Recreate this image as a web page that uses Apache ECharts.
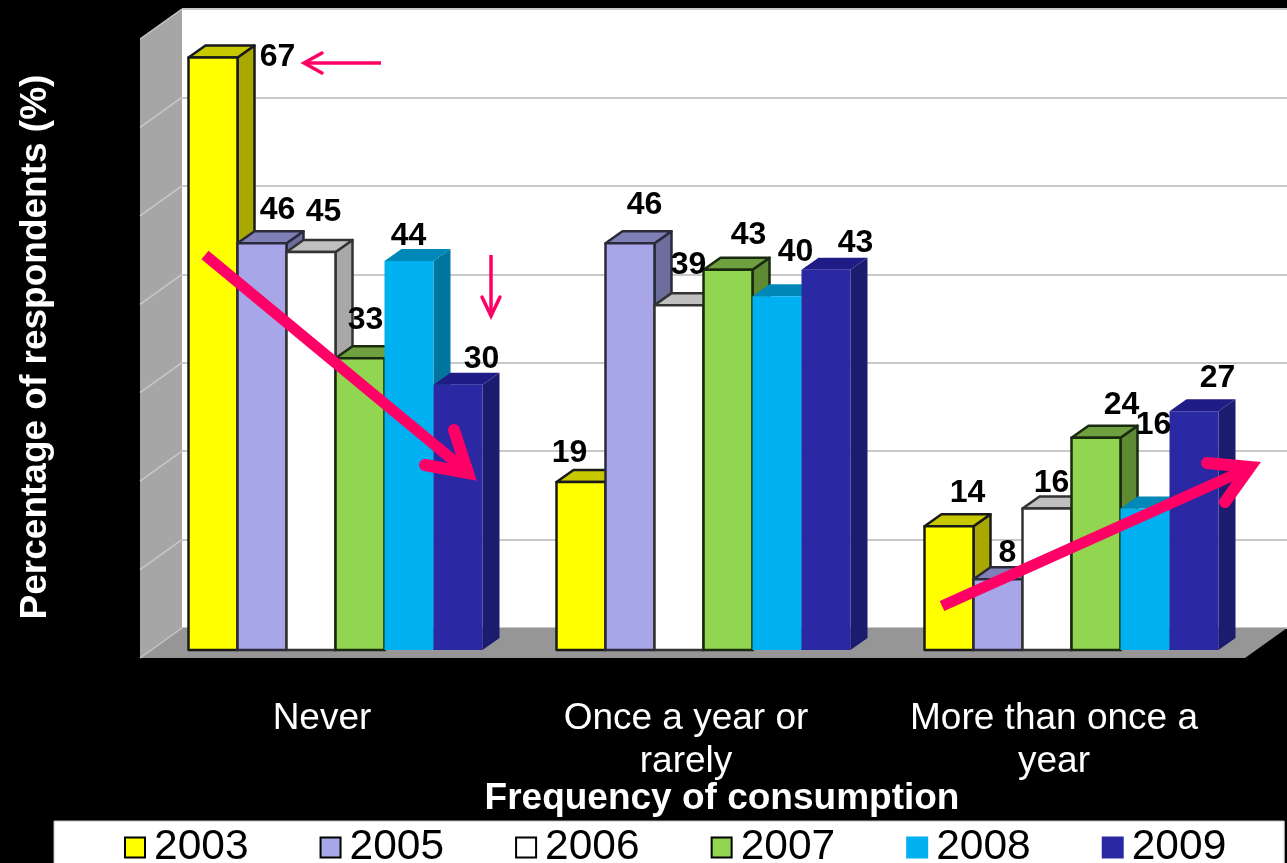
<!DOCTYPE html>
<html>
<head>
<meta charset="utf-8">
<style>html,body{margin:0;padding:0;background:#000}#c{width:1287px;height:863px}</style>
<script src="https://cdn.jsdelivr.net/npm/echarts@6/dist/echarts.min.js"></script>
</head>
<body>
<div id="c"></div>
<script>
const categories = ['Never', 'Once a year or\nrarely', 'More than once a\nyear'];
const years = ['2003', '2005', '2006', '2007', '2008', '2009'];
const v2003 = [67, 19, 14];
const v2005 = [46, 46, 8];
const v2006 = [45, 39, 16];
const v2007 = [33, 43, 24];
const v2008 = [44, 40, 16];
const v2009 = [30, 43, 27];
const yTicks = [0, 10, 20, 30, 40, 50, 60, 70];
const xAxisTitle = 'Frequency of consumption';
const yAxisTitle = 'Percentage of respondents (%)';

const allValues = [v2003, v2005, v2006, v2007, v2008, v2009];
const FONT = '"Liberation Sans", Arial, sans-serif';
const faces = [
  { front: '#ffff00', side: '#a8a800', top: '#c8c800', border: '#1a1a1a' },
  { front: '#a6a6e8', side: '#6e6e9e', top: '#8080b8', border: '#2a2a3a' },
  { front: '#ffffff', side: '#a8a8a8', top: '#c0c0c0', border: '#333333' },
  { front: '#92d550', side: '#5f8a34', top: '#6f9f3f', border: '#1a2a10' },
  { front: '#00b0f0', side: '#0075a0', top: '#0088b8', border: null },
  { front: '#2a28a3', side: '#1c1b6e', top: '#1f1d85', border: null }
];
// label offsets (pixels) from the top-centre of each bar's front face; series x category
const labelOffsets = [
  [[64.5, -3], [-11.5, -31], [18.5, -36]],
  [[15.5, -36], [14.5, -41], [9.5, -29]],
  [[12.5, -42], [9.5, -42], [4.5, -28]],
  [[5.5, -41], [20.5, -37], [25.5, -35]],
  [[-0.5, -27], [18.5, -47], [8.5, -86]],
  [[23.5, -28], [29.5, -29], [23.5, -36]]
];
const LABEL_NUDGE = 2.5;
const BAR_RATIO = 49 / 368, SHIFT = 17.5, DX = 17, DY = -12, WALL_DX = -42, WALL_DY = 30;

function barX(api, cat, s) {
  const c = api.coord([cat, 0]);
  const w = api.size([1, 0])[0] * BAR_RATIO;
  return { left: c[0] + SHIFT + (s - 3) * w, w: w, base: c[1] };
}
function poly(points, fill, stroke, bw) {
  return { type: 'polygon', shape: { points: points },
    style: { fill: fill, stroke: stroke || null, lineWidth: stroke ? (bw || 2.5) : 0, lineJoin: 'round' } };
}
function barRenderer(s) {
  return function (params, api) {
    const cat = api.value(0), val = api.value(1);
    const b = barX(api, cat, s);
    const t = api.coord([cat, val])[1];
    const l = b.left, r = l + b.w, f = faces[s];
    return { type: 'group', children: [
      poly([[r, t], [r + DX, t + DY], [r + DX, b.base + DY], [r, b.base]], f.side, f.border),
      poly([[l, t], [l + DX, t + DY], [r + DX, t + DY], [r, t]], f.top, f.border),
      poly([[l, t], [r, t], [r, b.base], [l, b.base]], f.front, f.border)
    ] };
  };
}
const barSeries = years.map((y, s) => ({
  name: y, type: 'custom', xAxisIndex: 1, yAxisIndex: 1, z: 3 + s,
  renderItem: barRenderer(s), silent: true,
  itemStyle: { color: faces[s].front },
  encode: { x: 0, y: 1 },
  data: allValues[s].map((v, j) => [j, v])
}));

const labelData = [];
allValues.forEach((arr, s) => arr.forEach((v, j) => labelData.push([j, v, s])));
const labelSeries = {
  type: 'custom', xAxisIndex: 1, yAxisIndex: 1, z: 20, silent: true,
  encode: { x: 0, y: 1 },
  data: labelData,
  renderItem: function (params, api) {
    const cat = api.value(0), val = api.value(1), s = api.value(2);
    const b = barX(api, cat, s);
    const o = labelOffsets[s][cat];
    return { type: 'text', style: {
      text: String(val), x: b.left + b.w / 2 + o[0], y: api.coord([cat, val])[1] + o[1] + LABEL_NUDGE,
      align: 'center', verticalAlign: 'middle',
      fontFamily: FONT, fontWeight: 'bold', fontSize: 32, fill: '#000'
    } };
  }
};
const wallSeries = {
  type: 'custom', xAxisIndex: 0, yAxisIndex: 0, z: 1, silent: true,
  data: [[0, 0]], encode: { x: 0, y: 1 },
  renderItem: function (params, api) {
    const cs = params.coordSys;
    const x = cs.x, top = cs.y, bot = cs.y + cs.height, right = cs.x + cs.width;
    const children = [
      poly([[x + WALL_DX, top + WALL_DY], [x, top], [x, bot], [x + WALL_DX, bot + WALL_DY]], '#a6a6a6'),
      poly([[x + WALL_DX, bot + WALL_DY], [x, bot], [right, bot], [right + WALL_DX, bot + WALL_DY]], '#969696')
    ];
    yTicks.forEach(t => {
      const yy = api.coord([0, t])[1];
      children.push({ type: 'line', shape: { x1: x + WALL_DX, y1: yy + WALL_DY, x2: x, y2: yy },
        style: { stroke: '#c8c8c8', lineWidth: 1.5 } });
    });
    return { type: 'group', children: children };
  }
};

const PINK = '#ff0066';
function arrow(points, w, cap) {
  return { type: 'polyline', z: 50, shape: { points: points },
    style: { stroke: PINK, fill: null, lineWidth: w, lineCap: cap || 'round', lineJoin: 'miter' }, silent: true };
}
const chart = echarts.init(document.getElementById('c'), null, { renderer: 'canvas' });
chart.setOption({
  animation: false,
  backgroundColor: '#000',
  grid: [
    { left: 182, right: 0, top: 9, height: 619, show: true, backgroundColor: '#fff', borderWidth: 0, outerBoundsMode: 'none' },
    { left: 134, width: 1104, top: 31, height: 619, outerBoundsMode: 'none' }
  ],
  xAxis: [
    { type: 'category', gridIndex: 0, data: categories, show: false },
    { type: 'category', gridIndex: 1,
      data: categories.map((c, i) => i === 0 ? { value: c, textStyle: { padding: [0, 0, 0, 8] } } : c),
      axisLine: { show: false }, axisTick: { show: false },
      axisLabel: { color: '#fff', fontFamily: FONT, fontSize: 37, lineHeight: 43, margin: 47, interval: 0 },
      name: xAxisTitle, nameLocation: 'middle', nameGap: 130, nameMoveOverlap: false,
      nameTextStyle: { color: '#fff', fontFamily: FONT, fontWeight: 'bold', fontSize: 37, padding: [0, 0, 0, 72] } }
  ],
  yAxis: [
    { type: 'value', gridIndex: 0, min: 0, max: 70, interval: 10,
      axisLine: { show: false }, axisTick: { show: false }, axisLabel: { show: false },
      splitLine: { show: true, lineStyle: { color: '#c8c8c8', width: 2 } } },
    { type: 'value', gridIndex: 1, min: 0, max: 70, interval: 10,
      axisLine: { show: false }, axisTick: { show: false }, axisLabel: { show: false }, splitLine: { show: false },
      name: yAxisTitle, nameLocation: 'middle', nameGap: 80, nameRotate: 90,
      nameTextStyle: { color: '#fff', fontFamily: FONT, fontWeight: 'bold', fontSize: 37, padding: [0, 13, 0, 0] } }
  ],
  legend: {
    show: true, left: 54, top: 821, orient: 'horizontal',
    padding: [5, 58, 3, 70], itemGap: 71, itemWidth: 20, itemHeight: 20,
    backgroundColor: '#fff', borderColor: '#bbb', borderWidth: 1, selectedMode: false,
    textStyle: { color: '#000', fontFamily: FONT, fontSize: 42.5, padding: [0, 0, 0, 4] },
    data: years.map((y, s) => ({ name: y, icon: 'rect',
      itemStyle: { color: faces[s].front, borderColor: faces[s].border ? '#000' : faces[s].front, borderWidth: 2 } }))
  },
  series: [wallSeries].concat(barSeries, [labelSeries]),
  graphic: { elements: [
    arrow([[205, 255], [465, 470]], 11, 'butt'),
    arrow([[425, 465], [468, 473], [454, 430]], 12, 'round'),
    arrow([[942, 606], [1245, 470]], 11, 'butt'),
    arrow([[1207, 463], [1250, 467], [1225, 502]], 12, 'round'),
    arrow([[381, 63], [305, 63]], 3.5, 'butt'),
    arrow([[322, 53], [304, 63], [322, 73]], 3.5, 'round'),
    arrow([[491, 255], [491, 315]], 3.5, 'butt'),
    arrow([[482, 297], [491, 316], [500, 297]], 3.5, 'round')
  ] }
});
</script>
</body>
</html>
